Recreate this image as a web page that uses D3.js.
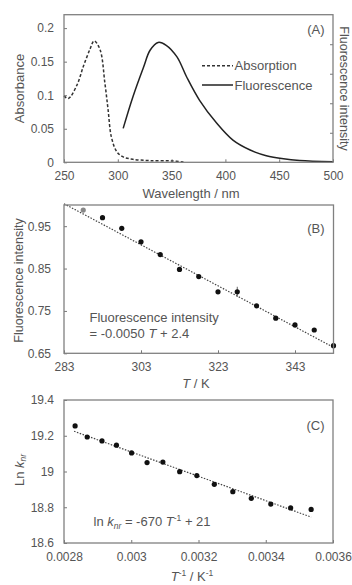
<!DOCTYPE html>
<html>
<head>
<meta charset="utf-8">
<script src="https://cdn.jsdelivr.net/npm/d3@7"></script>
<style>
  body { margin: 0; background: #fff; }
  svg { font-family: "Liberation Sans", Arial, sans-serif; }
  .tick text { fill: #555; font-size: 12px; }
  .domain { display: none; }
  .tick line { stroke: #777; }
</style>
</head>
<body>
<script>
// panel A: absorption (left axis) and normalised fluorescence (right axis)
var absWl = [250, 254, 262, 268, 274, 278, 283.5, 288, 291, 294, 299, 305, 314, 330, 351, 361];
var absVal = [0.099, 0.095, 0.115, 0.143, 0.168, 0.181, 0.168, 0.118, 0.078, 0.038, 0.016, 0.008, 0.0045, 0.0025, 0.002, 0.0005];
var fluWl = [305, 314, 324, 330, 337.5, 345, 355, 364, 376, 392, 407, 423, 438, 454, 469, 500];
var fluVal = [0.23, 0.443, 0.646, 0.759, 0.812, 0.793, 0.714, 0.578, 0.42, 0.264, 0.15, 0.083, 0.045, 0.024, 0.013, 0.004];
var ticksAx = [250, 300, 350, 400, 450, 500];
var ticksAy = [0, 0.05, 0.1, 0.15, 0.2];
var labelsAy = ["0", "0.05", "0.1", "0.15", "0.2"];
var ticksAr = [0.2, 0.4, 0.6, 0.8];

// panel B: fluorescence intensity vs temperature
var tempB = [288, 293, 298, 303, 308, 313, 318, 323, 328, 333, 338, 343, 348, 353];
var intB = [0.988, 0.970, 0.945, 0.913, 0.883, 0.848, 0.831, 0.795, 0.795, 0.762, 0.733, 0.717, 0.705, 0.668];
var errB = [0.004, 0, 0, 0, 0, 0, 0, 0, 0.012, 0, 0, 0, 0, 0];
var fitB = [[283, 1.003], [353, 0.664]];
var ticksBx = [283, 303, 323, 343];
var ticksBy = [0.65, 0.75, 0.85, 0.95];

// panel C: ln k_nr vs 1/T
var invTC = [0.002833, 0.002869, 0.002913, 0.002956, 0.003001, 0.003047, 0.003094, 0.003144, 0.003195, 0.003247, 0.003302, 0.003357, 0.003415, 0.003474, 0.003535];
var lnkC = [19.255, 19.193, 19.171, 19.147, 19.104, 19.05, 19.053, 18.999, 18.977, 18.928, 18.887, 18.85, 18.818, 18.796, 18.788];
var fitC = [[0.00283, 19.225], [0.003535, 18.745]];
var ticksCx = [0.0028, 0.003, 0.0032, 0.0034, 0.0036];
var labelsCx = ["0.0028", "0.003", "0.0032", "0.0034", "0.0036"];
var ticksCy = [18.6, 18.8, 19, 19.2, 19.4];
var labelsCy = ["18.6", "18.8", "19", "19.2", "19.4"];

var svg = d3.select("body").append("svg")
  .attr("width", 352)
  .attr("height", 585);

var txt = "#555";

function frame(x, y) {
  svg.append("rect")
    .attr("x", x.range()[0]).attr("y", y.range()[1])
    .attr("width", x.range()[1] - x.range()[0])
    .attr("height", y.range()[0] - y.range()[1])
    .attr("fill", "none").attr("stroke", "#808080").attr("stroke-width", 1.3);
}

function axes(x, y, xt, xl, yt, yl, ypad) {
  svg.append("g")
    .attr("transform", "translate(0," + y.range()[0] + ")")
    .call(d3.axisBottom(x).tickValues(xt).tickSizeInner(-3).tickSizeOuter(0).tickPadding(9)
      .tickFormat(function(d, i) { return xl ? xl[i] : d; }));
  svg.append("g")
    .attr("transform", "translate(" + x.range()[0] + ",0)")
    .call(d3.axisLeft(y).tickValues(yt).tickSizeInner(-3).tickSizeOuter(0).tickPadding(ypad)
      .tickFormat(function(d, i) { return yl ? yl[i] : d; }));
}

function label(x, y, s, size, anchor) {
  return svg.append("text").attr("x", x).attr("y", y)
    .attr("fill", txt).attr("font-size", size).attr("text-anchor", anchor || "start").text(s);
}

function vlabel(cx, cy, s, size, rot) {
  return svg.append("text")
    .attr("transform", "translate(" + cx + "," + cy + ") rotate(" + rot + ")")
    .attr("text-anchor", "middle").attr("dy", "0.35em")
    .attr("fill", txt).attr("font-size", size).text(s);
}

// ---------- (A)
var xA = d3.scaleLinear().domain([250, 500]).range([64, 333]);
var yA = d3.scaleLinear().domain([0, 0.22]).range([162.3, 14.7]);
var yAr = d3.scaleLinear().domain([0, 1]).range([162.3, 14.7]);

axes(xA, yA, ticksAx, null, ticksAy, labelsAy, 10);
svg.append("g")
  .attr("transform", "translate(" + xA.range()[1] + ",0)")
  .call(d3.axisRight(yAr).tickValues(ticksAr).tickSizeInner(-3).tickSizeOuter(0).tickFormat(""));

var absLine = d3.line().curve(d3.curveCatmullRom)
  .x(function(d, i) { return xA(absWl[i]); })
  .y(function(d) { return yA(d); });
svg.append("path").datum(absVal).attr("d", absLine)
  .attr("fill", "none").attr("stroke", "#333").attr("stroke-width", 1.5).attr("stroke-dasharray", "3,2");

var fluLine = d3.line().curve(d3.curveCatmullRom)
  .x(function(d, i) { return xA(fluWl[i]); })
  .y(function(d) { return yAr(d); });
svg.append("path").datum(fluVal).attr("d", fluLine)
  .attr("fill", "none").attr("stroke", "#222").attr("stroke-width", 1.5);

frame(xA, yA);

svg.append("line").attr("x1", 202).attr("x2", 233).attr("y1", 65.7).attr("y2", 65.7)
  .attr("stroke", "#333").attr("stroke-width", 1.5).attr("stroke-dasharray", "3,2");
svg.append("line").attr("x1", 202).attr("x2", 233).attr("y1", 85).attr("y2", 85)
  .attr("stroke", "#222").attr("stroke-width", 1.5);
label(234.5, 70.3, "Absorption", 13);
label(234.5, 89.6, "Fluorescence", 13);
label(324.5, 33.5, "(A)", 13, "end");
vlabel(19, 88.5, "Absorbance", 13, -90);
vlabel(344, 88.5, "Fluorescence intensity", 12.5, 90);
label(191, 197.5, "Wavelength / nm", 13, "middle");

// ---------- (B)
var xB = d3.scaleLinear().domain([283, 353]).range([64, 333.5]);
var yB = d3.scaleLinear().domain([0.65, 1.0]).range([353.3, 205]);

axes(xB, yB, ticksBx, null, ticksBy, null, 13);

svg.append("path").datum(fitB)
  .attr("d", d3.line().x(function(d) { return xB(d[0]); }).y(function(d) { return yB(d[1]); }))
  .attr("fill", "none").attr("stroke", "#444").attr("stroke-width", 1.2).attr("stroke-dasharray", "1.5,1.5");

var withErr = d3.range(intB.length).filter(function(i) { return errB[i] > 0; });
svg.append("g").selectAll("line").data(withErr).enter().append("line")
  .attr("x1", function(i) { return xB(tempB[i]); })
  .attr("x2", function(i) { return xB(tempB[i]); })
  .attr("y1", function(i) { return yB(intB[i] + errB[i]); })
  .attr("y2", function(i) { return yB(intB[i] - errB[i]); })
  .attr("stroke", "#666").attr("stroke-width", 1);

svg.append("g").selectAll("circle").data(intB).enter().append("circle")
  .attr("cx", function(d, i) { return xB(tempB[i]); })
  .attr("cy", function(d) { return yB(d); })
  .attr("r", 2.6)
  .attr("fill", function(d, i) { return i === 0 ? "#888" : "#111"; });

frame(xB, yB);

label(324.5, 232.5, "(B)", 13, "end");
label(89.5, 321.5, "Fluorescence intensity", 13);
var eqB = label(89.5, 337.5, "= -0.0050 ", 13);
eqB.append("tspan").attr("font-style", "italic").text("T");
eqB.append("tspan").text(" + 2.4");
vlabel(19, 280.5, "Fluorescence intensity", 12.5, -90);
var tk = label(196, 387.5, "", 13, "middle");
tk.append("tspan").attr("font-style", "italic").text("T");
tk.append("tspan").text(" / K");

// ---------- (C)
var xC = d3.scaleLinear().domain([0.0028, 0.0036]).range([64, 333]);
var yC = d3.scaleLinear().domain([18.6, 19.4]).range([543, 400]);

axes(xC, yC, ticksCx, labelsCx, ticksCy, labelsCy, 10);

svg.append("path").datum(fitC)
  .attr("d", d3.line().x(function(d) { return xC(d[0]); }).y(function(d) { return yC(d[1]); }))
  .attr("fill", "none").attr("stroke", "#444").attr("stroke-width", 1.2).attr("stroke-dasharray", "1.5,1.5");

svg.append("g").selectAll("circle").data(lnkC).enter().append("circle")
  .attr("cx", function(d, i) { return xC(invTC[i]); })
  .attr("cy", function(d) { return yC(d); })
  .attr("r", 2.6)
  .attr("fill", "#111");

frame(xC, yC);

label(324.5, 430, "(C)", 13, "end");

var eqC = label(93.5, 526, "ln ", 13);
eqC.append("tspan").attr("font-style", "italic").text("k");
eqC.append("tspan").attr("font-size", 8.5).attr("dy", 2.5).attr("font-style", "italic").text("nr");
eqC.append("tspan").attr("dy", -2.5).text(" = -670 ");
eqC.append("tspan").attr("font-style", "italic").text("T");
eqC.append("tspan").attr("font-size", 8.5).attr("dy", -5).text("-1");
eqC.append("tspan").attr("dy", 5).text(" + 21");

var lnk = svg.append("text")
  .attr("transform", "translate(19,470) rotate(-90)")
  .attr("text-anchor", "middle").attr("dy", "0.35em")
  .attr("fill", txt).attr("font-size", 13);
lnk.append("tspan").text("Ln ");
lnk.append("tspan").attr("font-style", "italic").text("k");
lnk.append("tspan").attr("font-style", "italic").attr("font-size", 8.5).attr("dy", 2.5).text("nr");

var tInv = label(192, 581, "", 13, "middle");
tInv.append("tspan").attr("font-style", "italic").text("T");
tInv.append("tspan").attr("font-size", 8.5).attr("dy", -5).text("-1");
tInv.append("tspan").attr("dy", 5).text(" / K");
tInv.append("tspan").attr("font-size", 8.5).attr("dy", -5).text("-1");
</script>
</body>
</html>
